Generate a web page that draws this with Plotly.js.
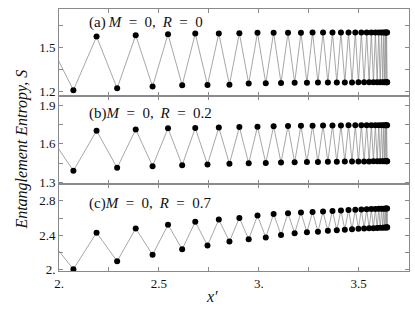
<!DOCTYPE html>
<html>
<head>
<meta charset="utf-8">
<script src="https://cdn.plot.ly/plotly-3.0.1.min.js"></script>
<style>html,body{margin:0;padding:0;background:#fff;}#chart{width:415px;height:312px;}</style>
</head>
<body>
<div id="chart"></div>
<script>
// x' = ln chord length for subsystem sizes l = 7..60 (values read/derived from the figure)
const xPrime = [1.9403, 2.0721, 2.1880, 2.2911, 2.3840, 2.4684, 2.5456, 2.6166, 2.6822, 2.7432,
  2.8000, 2.8531, 2.9028, 2.9496, 2.9936, 3.0351, 3.0743, 3.1114, 3.1464, 3.1796,
  3.2111, 3.2410, 3.2693, 3.2962, 3.3217, 3.3459, 3.3689, 3.3906, 3.4113, 3.4308,
  3.4493, 3.4668, 3.4833, 3.4989, 3.5136, 3.5273, 3.5403, 3.5523, 3.5636, 3.5740,
  3.5837, 3.5926, 3.6007, 3.6081, 3.6147, 3.6207, 3.6259, 3.6304, 3.6342, 3.6373,
  3.6397, 3.6414, 3.6424, 3.6428];

const S_a = [1.565, 1.211, 1.574, 1.224, 1.583, 1.236, 1.590, 1.245, 1.594, 1.247,
  1.594, 1.249, 1.597, 1.256, 1.599, 1.258, 1.600, 1.260, 1.600, 1.261,
  1.600, 1.262, 1.601, 1.263, 1.601, 1.263, 1.601, 1.264, 1.601, 1.264,
  1.601, 1.264, 1.601, 1.265, 1.601, 1.265, 1.601, 1.265, 1.601, 1.265,
  1.601, 1.265, 1.601, 1.265, 1.601, 1.265, 1.601, 1.265, 1.601, 1.265,
  1.601, 1.265, 1.601, 1.265];

const S_b = [1.694, 1.391, 1.703, 1.414, 1.713, 1.427, 1.721, 1.435, 1.724, 1.440,
  1.728, 1.445, 1.731, 1.449, 1.734, 1.452, 1.737, 1.455, 1.739, 1.457,
  1.741, 1.459, 1.742, 1.460, 1.743, 1.461, 1.744, 1.462, 1.744, 1.463,
  1.745, 1.463, 1.745, 1.464, 1.745, 1.464, 1.745, 1.464, 1.745, 1.465,
  1.745, 1.465, 1.745, 1.465, 1.745, 1.465, 1.745, 1.465, 1.745, 1.465,
  1.745, 1.465, 1.745, 1.465];

const S_c = [2.391, 2.008, 2.431, 2.101, 2.481, 2.175, 2.524, 2.238, 2.559, 2.282,
  2.583, 2.330, 2.602, 2.354, 2.630, 2.377, 2.649, 2.405, 2.658, 2.425,
  2.665, 2.437, 2.672, 2.443, 2.676, 2.453, 2.684, 2.460, 2.690, 2.466,
  2.695, 2.472, 2.698, 2.476, 2.701, 2.479, 2.703, 2.482, 2.705, 2.484,
  2.707, 2.486, 2.708, 2.488, 2.709, 2.490, 2.710, 2.491, 2.711, 2.492,
  2.711, 2.493, 2.712, 2.494];

const panelLabels = [
  '(a)\u2009<i>M</i>\u2002=\u20020,\u2009 <i>R</i>\u2002=\u20020',
  '(b)<i>M</i>\u2002=\u20020,\u2009 <i>R</i>\u2002=\u20020.2',
  '(c)<i>M</i>\u2002=\u20020,\u2009 <i>R</i>\u2002=\u20020.7'
];
const xTickVals = [2, 2.25, 2.5, 2.75, 3, 3.25, 3.5, 3.75];
const xTickText = ['2.', '', '2.5', '', '3.', '', '3.5', ''];
const yTicks = [
  {vals: [1.2, 1.35, 1.5, 1.65], text: ['1.2', '', '1.5', '']},
  {vals: [1.3, 1.45, 1.6, 1.75, 1.9], text: ['1.3', '', '1.6', '', '1.9']},
  {vals: [2.0, 2.2, 2.4, 2.6, 2.8, 3.0], text: ['2.', '', '2.4', '', '2.8', '']}
];
const yRanges = [[1.170, 1.760], [1.291, 1.970], [1.987, 3.0]];
const series = [S_a, S_b, S_c];

const serif = 'Liberation Serif, Times New Roman, serif';
const frameColor = '#8a8a8a';
const traces = [];
const layout = {
  width: 415, height: 312,
  margin: {l: 59, r: 6, t: 9, b: 40.5},
  paper_bgcolor: '#fff', plot_bgcolor: '#fff',
  showlegend: false,
  font: {family: serif, size: 13, color: '#111'},
  annotations: []
};
const domains = [[2/3, 1], [1/3, 2/3], [0, 1/3]];
const labelY = [1.668, 1.840, 2.773];

for (let i = 0; i < 3; i++) {
  const xs = i === 0 ? 'x' : 'x' + (i + 1);
  const ys = i === 0 ? 'y' : 'y' + (i + 1);
  traces.push({
    x: xPrime, y: series[i], xaxis: xs, yaxis: ys,
    type: 'scatter', mode: 'lines+markers', cliponaxis: true,
    line: {color: '#909090', width: 0.8},
    marker: {color: '#000', size: 6}
  });
  const xk = i === 0 ? 'xaxis' : 'xaxis' + (i + 1);
  const yk = i === 0 ? 'yaxis' : 'yaxis' + (i + 1);
  layout[xk] = {
    domain: [0, 1], anchor: ys, range: [2, 3.752],
    tickvals: xTickVals, ticktext: xTickText, showticklabels: i === 2,
    ticks: 'inside', ticklen: 4, tickcolor: frameColor, tickwidth: 1,
    showline: true, mirror: 'ticks', linecolor: frameColor, linewidth: 1,
    showgrid: false, zeroline: false,
    tickfont: {family: serif, size: 13, color: '#111'}
  };
  if (i > 0) layout[xk].matches = 'x';
  layout[yk] = {
    domain: domains[i], anchor: xs, range: yRanges[i],
    tickvals: yTicks[i].vals, ticktext: yTicks[i].text,
    ticks: 'inside', ticklen: 4, tickcolor: frameColor, tickwidth: 1,
    showline: true, mirror: 'ticks', linecolor: frameColor, linewidth: 1,
    showgrid: false, zeroline: false,
    tickfont: {family: serif, size: 13, color: '#111'}
  };
  layout.annotations.push({
    xref: xs, yref: ys, x: 2.14, y: labelY[i], xanchor: 'left', yanchor: 'middle',
    text: panelLabels[i], showarrow: false,
    font: {family: serif, size: 15, color: '#111'}
  });
}

layout.annotations.push({
  xref: 'paper', yref: 'paper', x: -0.106, y: 0.463, xanchor: 'center', yanchor: 'middle',
  text: '<i>Entanglement Entropy, S</i>', textangle: -90, showarrow: false,
  font: {family: serif, size: 16, color: '#111'}
});
layout.annotations.push({
  xref: 'paper', yref: 'paper', x: 0.437, y: -0.097, xanchor: 'center', yanchor: 'middle',
  text: '<i>x′</i>', showarrow: false,
  font: {family: serif, size: 16, color: '#111'}
});

Plotly.newPlot('chart', traces, layout, {staticPlot: true, displayModeBar: false});
</script>
</body>
</html>
